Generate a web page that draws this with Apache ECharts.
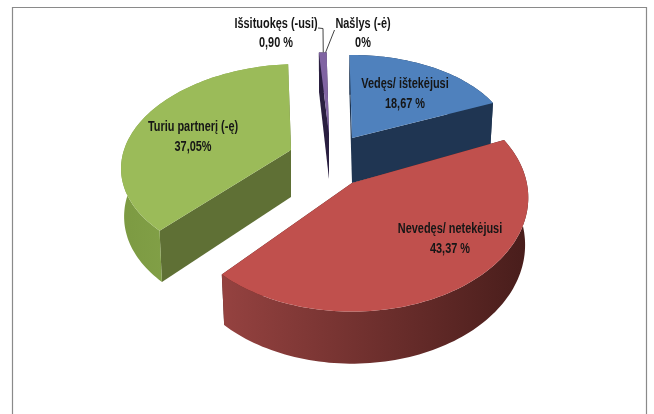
<!DOCTYPE html>
<html><head><meta charset="utf-8">
<style>html,body{margin:0;padding:0;background:#fff}#c{width:654px;height:414px}</style>
<script src="https://cdn.jsdelivr.net/npm/echarts@6/dist/echarts.min.js"></script>
</head><body><div id="c"></div>
<script>
const categories = ['Vedęs/ ištekėjusi','Nevedęs/ netekėjusi','Turiu partnerį (-ę)','Išsituokęs (-usi)','Našlys (-ė)'];
const values = [18.67,43.37,37.05,0.90,0];
const valueLabels = ['18,67 %','43,37 %','37,05%','0,90 %','0%'];
const topColors = ['#4f81bd','#c0504d','#9bbb59','#8064a2','#4bacc6'];
const faceColors = ['#1f3552','#4a1e1c','#5f7035','#2a1f40','#1f4a55'];
const wallStops = [['#1f3552','#1f3552'],['#954240','#481d1b'],['#7c9a42','#8fae52'],['#2a1f40','#2a1f40'],['#1f4a55','#1f4a55']];
// per-slice layout: apex on screen, radii, perspective, skew, wall depth
const layout = [
 {cx:352,cy:138,rx:159,ry:89.6,p:.08,sk:0,h:45},
 {cx:352,cy:183,rx:174.8,ry:112,p:.129,sk:0,h:46.5},
 {cx:291,cy:150,rx:167,ry:98,p:.14,sk:8,h:47},
 {cx:329,cy:134,rx:164,ry:98,p:.2,sk:0,h:45},
 {cx:329,cy:134,rx:164,ry:98,p:.2,sk:0,h:45}
];
const labelPos = [[405,84.5],[450,229.5],[193,127.5],[276,24],[363,24]];
const START = -1;
const total = values.reduce((a,b)=>a+b,0);
const rad = d=>d*Math.PI/180;
function rimPt(l,deg,r=1){const s=Math.sin(rad(deg))*r,c=Math.cos(rad(deg))*r,d=1+l.p*c;
  return [l.cx+l.rx*s/d+l.sk*c,l.cy-l.ry*c/d];}
function low(l,pt,deg,r=1){const c=Math.cos(rad(deg))*r;
  return [pt[0]-(pt[0]-l.cx)*.018,pt[1]+l.h*(1-.12*c)];}
function arc(l,a,b){const n=Math.max(2,Math.ceil(Math.abs(b-a)/1.5)),out=[];
  for(let i=0;i<=n;i++)out.push(a+(b-a)*i/n);return out;}
const FONT='bold 14px "Liberation Sans",sans-serif';
const spans=[];let acc=START;
values.forEach(v=>{const a=acc;acc+=v/total*360;spans.push([a,acc]);});
function renderSlice(i){
  const [a,b]=spans[i],l=layout[i],kids=[];
  const A=[l.cx,l.cy],Alow=low(l,A,0,0);
  if(b-a>0.001){
    const deg=arc(l,a,b),rim=deg.map(d=>rimPt(l,d)),rimLow=deg.map((d,k)=>low(l,rim[k],d));
    [[a,rim[0]],[b,rim[rim.length-1]]].forEach(([d,p])=>{
      kids.push({type:'polygon',shape:{points:[A,p,low(l,p,d),Alow]},style:{fill:faceColors[i]}});
    });
    const wall=rim.concat(rimLow.slice().reverse());
    kids.push({type:'polygon',shape:{points:wall},style:{fill:new echarts.graphic.LinearGradient(0,0,1,0,[
      {offset:0,color:wallStops[i][0]},{offset:1,color:wallStops[i][1]}])}});
    kids.push({type:'polygon',shape:{points:[A].concat(rim)},style:{fill:topColors[i]}});
  }
  return {type:'group',children:kids};
}
const order=[3,2,0,1,4];
function labelItem(params,api){
  const idx=params.dataIndex,[x,y]=labelPos[idx],kids=[];
  [categories[idx],valueLabels[idx]].forEach((t,k)=>{
    kids.push({type:'text',x,y:y+k*19.5,scaleX:.78,style:{text:t,x:0,y:0,align:'center',verticalAlign:'middle',font:FONT,fill:'#161616'}});
  });
  if(idx>=3){
    const [a,b]=spans[idx],l=layout[idx],m=rimPt(l,(a+b)/2);
    const pts=idx===3?[[318,28],[323,28.5],[m[0]+.5,m[1]]]:[[334.5,30],[m[0]-1,m[1]]];
    kids.push({type:'polyline',shape:{points:pts},style:{stroke:'#444',lineWidth:1,fill:null}});
  }
  return {type:'group',children:kids};
}
const chart=echarts.init(document.getElementById('c'));
chart.setOption({
  backgroundColor:'#fff',animation:false,
  graphic:[{type:'polyline',shape:{points:[[12.5,414],[12.5,7.5],[646.5,7.5],[646.5,414]]},style:{stroke:'#8a8a8a',lineWidth:1.2,fill:null}}],
  series:[
   ...order.map(k=>({type:'custom',coordinateSystem:'none',renderItem:()=>renderSlice(k),silent:true,
     data:[{name:categories[k],value:values[k]}]})),
   {type:'custom',coordinateSystem:'none',renderItem:labelItem,silent:true,z:10,
     data:categories.map((n,i)=>({name:n,value:values[i]}))}
  ]
});
</script></body></html>
